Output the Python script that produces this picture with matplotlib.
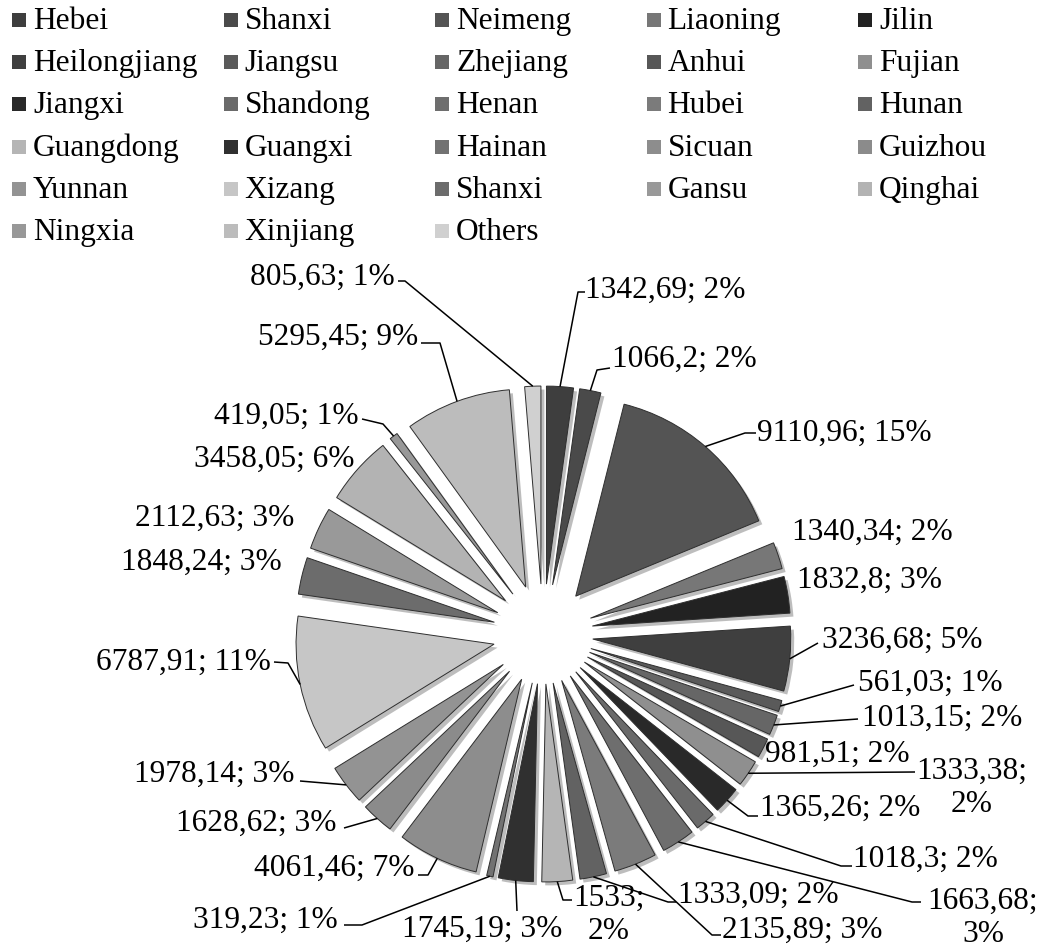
import matplotlib
matplotlib.use("Agg")
import matplotlib.pyplot as plt
import matplotlib.patheffects as pe
import numpy as np

# ---------------- data ----------------
names = ["Hebei", "Shanxi", "Neimeng", "Liaoning", "Jilin",
         "Heilongjiang", "Jiangsu", "Zhejiang", "Anhui", "Fujian",
         "Jiangxi", "Shandong", "Henan", "Hubei", "Hunan",
         "Guangdong", "Guangxi", "Hainan", "Sicuan", "Guizhou",
         "Yunnan", "Xizang", "Shanxi", "Gansu", "Qinghai",
         "Ningxia", "Xinjiang", "Others"]
values = [1342.69, 1066.2, 9110.96, 1340.34, 1832.8,
          3236.68, 561.03, 1013.15, 981.51, 1333.38,
          1365.26, 1018.3, 1663.68, 2135.89, 1333.09,
          1533.0, 1745.19, 319.23, 4061.46, 1628.62,
          1978.14, 6787.91, 1848.24, 2112.63, 3458.05,
          419.05, 5295.45, 805.63]
colors = ["#3e3e3e", "#4a4a4a", "#545454", "#777777", "#222222",
          "#3f3f3f", "#5a5a5a", "#666666", "#575757", "#8f8f8f",
          "#292929", "#6a6a6a", "#6e6e6e", "#7b7b7b", "#626262",
          "#b5b5b5", "#303030", "#727272", "#8d8d8d", "#8b8b8b",
          "#939393", "#c6c6c6", "#6c6c6c", "#999999", "#b3b3b3",
          "#989898", "#bcbcbc", "#d0d0d0"]
two_line = {9, 12, 15}   # labels written on two lines

# ---------------- layout (pixels, y from top) ----------------
W, H = 1044, 949
CX, CY = 543, 634
R, EXP = 198, 50
# text anchor x, cap-centre y of first line, alignment, extra leader points
label_pos = [
    (585, 288, "left",   [(578, 292), (585, 292)]),
    (612, 357, "left",   [(597, 370), (610, 368)]),
    (757, 431, "left",   [(745, 433), (756, 433)]),
    (792, 530, "left",   None),
    (797, 578, "left",   None),
    (822, 638, "left",   [(818, 643)]),
    (858, 681, "left",   [(854, 685)]),
    (862, 716, "left",   [(858, 719)]),
    (765, 752, "left",   None),
    (972, 767, "center", [(915, 772)]),
    (760, 806, "left",   [(748, 816), (758, 816)]),
    (853, 857, "left",   [(841, 866), (852, 866)]),
    (983, 897, "center", [(912, 902), (921, 902)]),
    (722, 928, "left",   [(712, 935), (721, 935)]),
    (678, 893, "left",   [(668, 902), (676, 902)]),
    (609, 894, "center", [(563, 900), (572, 900)]),
    (482, 927, "center", [(517, 911)]),
    (338, 918, "right",  [(362, 925), (344, 925)]),
    (414, 866, "right",  [(428, 875), (418, 875)]),
    (336, 821, "right",  [(344, 828)]),
    (295, 772, "right",  [(300, 781)]),
    (271, 660, "right",  [(288, 663), (274, 662)]),
    (282, 560, "right",  None),
    (294, 516, "right",  None),
    (354, 457, "right",  None),
    (359, 414, "right",  [(383, 424), (362, 419)]),
    (418, 335, "right",  [(440, 343), (421, 343)]),
    (395, 275, "right",  [(405, 281), (398, 281)]),
]

# legend layout
leg_x0, leg_dx = 12, 211.5
leg_base0, leg_dy = 29, 42.2

FONT = ["Liberation Serif", "DejaVu Serif"]
FS = 22.6
CAP = 10.2     # half cap height (px): cap-centre -> baseline
GAP = 35       # line gap of two-line labels (px)

def P(x, y):
    return (x, H - y)

fig = plt.figure(figsize=(W / 100, H / 100), dpi=100)
ax = fig.add_axes([0, 0, 1, 1])

total = float(np.sum(values))
wedges, _ = ax.pie(values, colors=colors, startangle=90, counterclock=False,
                   radius=R, center=P(CX, CY), explode=[EXP] * len(values),
                   wedgeprops=dict(edgecolor="#2e2e2e", linewidth=0.7))
for w in wedges:
    w.set_path_effects([pe.SimplePatchShadow(offset=(2.5, -2.5), shadow_rgbFace="#444444", alpha=0.35),
                        pe.Normal()])

ax.set_xlim(0, W)
ax.set_ylim(0, H)
ax.set_aspect("equal")
ax.axis("off")

def fmt(v):
    return ("%g" % v).replace(".", ",")

for i, (w, v) in enumerate(zip(wedges, values)):
    pct = int(round(100 * v / total))
    multi = i in two_line
    txt = f"{fmt(v)}{';' + chr(10) if multi else '; '}{pct}%"
    x, y, ha, pts = label_pos[i]
    yb = y + CAP + (GAP if multi else 0)
    ax.text(*P(x, yb), txt, ha=ha, va="baseline", fontsize=FS, family=FONT,
            linespacing=1.19, multialignment="center")
    if pts is not None:
        mid = np.deg2rad(0.5 * (w.theta1 + w.theta2))
        xs = [w.center[0] + w.r * np.cos(mid)]
        ys = [w.center[1] + w.r * np.sin(mid)]
        for (px, py) in pts:
            qx, qy = P(px, py)
            xs.append(qx)
            ys.append(qy)
        ax.plot(xs, ys, color="black", lw=1.1, solid_capstyle="butt", zorder=3)

# legend (row-major, 5 columns)
for i, (n, c) in enumerate(zip(names, colors)):
    r, k = divmod(i, 5)
    lx = leg_x0 + k * leg_dx
    base = leg_base0 + r * leg_dy
    ax.add_patch(plt.Rectangle(P(lx, base - 2), 14, 14, facecolor=c, edgecolor="none"))
    ax.text(*P(lx + 21, base), n, ha="left", va="baseline", fontsize=FS, family=FONT)

fig.savefig("out.png", dpi=100)
